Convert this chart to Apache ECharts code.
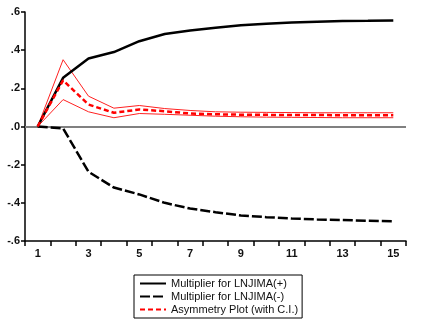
<!DOCTYPE html>
<html><head><meta charset="utf-8">
<script src="https://cdn.jsdelivr.net/npm/echarts@6/dist/echarts.min.js"></script>
<style>html,body{margin:0;padding:0;background:#fff}#c{width:438px;height:328px}</style>
</head><body><div id="c"></div>
<script>
var categories = ['1','2','3','4','5','6','7','8','9','10','11','12','13','14','15'];
var multPos = [0, 0.255, 0.356, 0.39, 0.447, 0.485, 0.503, 0.518, 0.53, 0.538, 0.545, 0.549, 0.553, 0.554, 0.556];
var multNeg = [0, -0.01, -0.237, -0.32, -0.356, -0.40, -0.43, -0.449, -0.466, -0.475, -0.482, -0.487, -0.49, -0.494, -0.497];
var asym = [0, 0.242, 0.115, 0.072, 0.089, 0.08, 0.068, 0.064, 0.062, 0.061, 0.06, 0.06, 0.059, 0.059, 0.059];
var upperCI = [0, 0.35, 0.159, 0.096, 0.11, 0.094, 0.084, 0.077, 0.075, 0.074, 0.073, 0.072, 0.072, 0.072, 0.072];
var lowerCI = [0, 0.141, 0.077, 0.046, 0.068, 0.064, 0.059, 0.054, 0.051, 0.049, 0.048, 0.047, 0.046, 0.046, 0.046];
var names = ['Multiplier for LNJIMA(+)', 'Multiplier for LNJIMA(-)', 'Asymmetry Plot (with C.I.)'];

var chart = echarts.init(document.getElementById('c'), null, {renderer: 'canvas'});
chart.setOption({
  animation: false,
  textStyle: {fontFamily: 'Liberation Sans, Arial, sans-serif'},
  grid: {left: 25, right: 32, top: 12, bottom: 87},
  legend: {
    data: names,
    orient: 'vertical', left: 134, top: 275,
    borderColor: '#000', borderWidth: 1, padding: [3, 4, 3, 5],
    itemGap: 2, itemWidth: 26, itemHeight: 12,
    itemStyle: {opacity: 0},
    textStyle: {fontSize: 11, color: '#111'}
  },
  xAxis: {
    type: 'category', data: categories, boundaryGap: true,
    axisLine: {onZero: false, lineStyle: {color: '#000', width: 1.5}},
    axisTick: {show: true, interval: 0, length: 5, lineStyle: {color: '#000', width: 1.5}},
    axisLabel: {interval: 1, color: '#111', fontSize: 11, fontWeight: 'bold', margin: 7},
    splitLine: {show: false}
  },
  yAxis: {
    type: 'value', min: -0.6, max: 0.6, interval: 0.2,
    axisLine: {show: true, lineStyle: {color: '#000', width: 1.5}},
    axisTick: {show: true, length: 4, lineStyle: {color: '#000', width: 1.5}},
    axisLabel: {color: '#111', fontSize: 11, fontWeight: 'bold', margin: 5,
      formatter: function(v){ var s = (Math.round(v*10)/10).toFixed(1); return s.replace('0.', '.'); }},
    splitLine: {show: false}
  },
  series: [
    {name: names[0], type: 'line', data: multPos, symbol: 'none', lineStyle: {color: '#000', width: 2.5}, itemStyle: {color: '#000'},
     markLine: {silent: true, symbol: 'none', label: {show: false}, lineStyle: {color: '#808080', width: 2, type: 'solid'}, data: [{yAxis: 0}]}, z: 5},
    {name: names[1], type: 'line', data: multNeg, symbol: 'none', lineStyle: {color: '#000', width: 2.5, type: [10, 3, 10, 3]}, itemStyle: {color: '#000'}, z: 5},
    {name: 'upper', type: 'line', data: upperCI, symbol: 'none', lineStyle: {color: '#ff2020', width: 1}, z: 4},
    {name: 'lower', type: 'line', data: lowerCI, symbol: 'none', lineStyle: {color: '#ff2020', width: 1}, z: 4},
    {name: names[2], type: 'line', data: asym, symbol: 'none', lineStyle: {color: '#ff0000', width: 2.5, type: [5, 3]}, itemStyle: {color: '#ff0000'}, z: 6}
  ]
});
</script></body></html>
